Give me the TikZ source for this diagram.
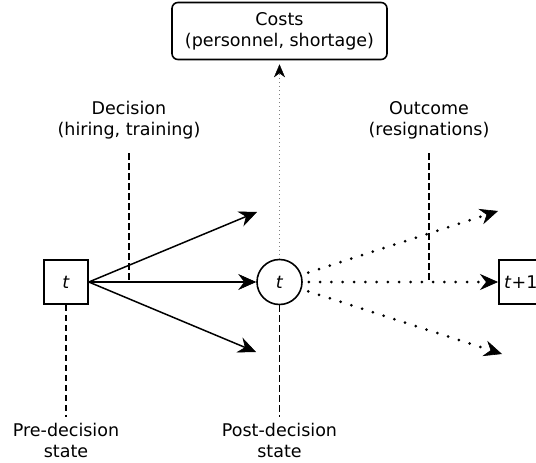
\documentclass[tikz,border=0pt]{standalone}
\usepackage{fontspec}
\setmainfont{DejaVu Sans}
\usetikzlibrary{arrows.meta,positioning}

\tikzset{
    statebox/.style={draw, line width=1.6pt, minimum size=44pt, inner sep=0pt},
    postcircle/.style={draw, circle, line width=1.6pt, minimum size=45pt, inner sep=0pt},
    costbox/.style={draw, rounded corners=6pt, line width=1.6pt, minimum width=215pt, minimum height=57pt, align=center},
    caption/.style={align=center, inner sep=0pt},
    guide/.style={line width=1.5pt, dash pattern=on 6.5pt off 3.5pt},
    decide/.style={line width=1.5pt, -{Stealth[length=18pt 0 0,width=16pt 0 0,inset=6pt,line width=0.6pt]}},
    outcome/.style={line width=3pt, line cap=round, dash pattern=on 0pt off 11.3pt,
        -{Stealth[length=18pt 0 0,width=16pt 0 0,inset=6pt,line width=0.6pt]}},
    costlink/.style={gray, line width=1.2pt, dash pattern=on 1.2pt off 2.8pt,
        -{Stealth[black,length=13pt 0 0,width=11pt 0 0,inset=4pt,line width=0.4pt]}}
}

\begin{document}
\begin{tikzpicture}[x=1pt, y=-1pt, font=\fontsize{17.5}{21}\selectfont]
    \useasboundingbox (0,0) rectangle (536,463);

    % states
    \node[statebox] (pre) at (66,282) {\textit{t}};
    \node[postcircle] (post) at (279.5,282) {\textit{t}};
    \node[statebox, anchor=west] (next) at (498,282) {\textit{t}+1};
    \node[costbox] (cost) at (279.5,31) {Costs\\(personnel, shortage)};

    % captions
    \node[caption] (dec) at (129,120) {Decision\\(hiring, training)};
    \node[caption] (out) at (429,120) {Outcome\\(resignations)};
    \node[caption] (prelab) at (66,440) {Pre-decision\\state};
    \node[caption] (postlab) at (279.5,440) {Post-decision\\state};

    % free ends
    \coordinate (decup) at (257,212);
    \coordinate (declow) at (256,352);
    \coordinate (outup) at (498,211);
    \coordinate (outlow) at (502,354);
    \coordinate (decmark) at (129,282);
    \coordinate (outmark) at (429,282);

    % decisions
    \draw[decide] (pre.east) -- (decup);
    \draw[decide] (pre.east) -- (post.west);
    \draw[decide] (pre.east) -- (declow);

    % outcomes
    \draw[outcome, shorten <=7pt] (post.18) -- (outup);
    \draw[outcome, shorten <=6pt] (post.east) -- (next.west);
    \draw[outcome, shorten <=7pt] (post.-18) -- (outlow);

    % costs
    \draw[costlink, shorten >=4pt] (post.north) -- (cost.south);

    % guides
    \draw[guide, shorten <=14pt] (dec.south) -- (decmark);
    \draw[guide, shorten <=14pt] (out.south) -- (outmark);
    \draw[guide, shorten >=6pt] (pre.south) -- (prelab.north);
    \draw[guide, shorten >=6pt] (post.south) -- (postlab.north);
\end{tikzpicture}
\end{document}
